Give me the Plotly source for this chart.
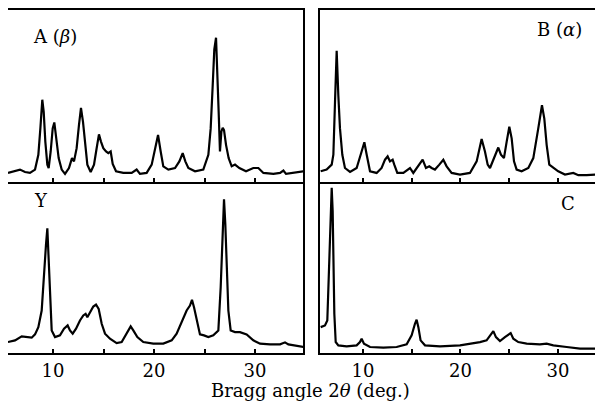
import plotly.graph_objects as go

# ---- Data (2θ in degrees, intensity in arbitrary units) ----
a_deg = [5.54, 6.24, 6.73, 7.23, 7.72, 8.22, 8.55, 8.75, 8.94, 9.08, 9.24, 9.44, 9.57, 9.77, 9.97, 10.13,
         10.33, 10.56, 10.86, 11.19, 11.58, 11.88, 12.08, 12.34, 12.57, 12.77, 12.97, 13.17, 13.40, 13.73,
         14.06, 14.32, 14.55, 14.75, 14.98, 15.25, 15.48, 15.71, 15.91, 16.24, 16.96, 17.79, 18.28, 18.61,
         19.27, 19.77, 20.10, 20.40, 20.66, 20.92, 21.42, 22.08, 22.51, 22.84, 23.10, 23.40, 24.06, 24.88,
         25.38, 25.61, 25.81, 25.97, 26.14, 26.27, 26.40, 26.53, 26.67, 26.80, 26.93, 27.13, 27.39, 27.69,
         28.02, 28.45, 29.11, 29.83, 30.33, 30.83, 31.82, 32.48, 32.81, 33.07, 33.80, 34.79]
a_int = [10.3, 12.7, 13.7, 11.3, 10.3, 13.7, 28.7, 55.3, 84.3, 72, 42, 18.7, 15.3, 32, 55.3, 61.3,
         45.3, 25.3, 13.7, 9.3, 15.3, 25.3, 22, 35.3, 58.7, 76, 62, 38.7, 18.7, 11.3,
         18.7, 35.3, 49.3, 42, 35.3, 32, 30.3, 32, 19.3, 12, 10.3, 10.3, 13.7, 9.3,
         10.3, 18.7, 35.3, 48.7, 32, 17, 13.7, 15.3, 22, 30.3, 22, 15.3, 12, 13.7,
         28.7, 55.3, 98.7, 135.3, 147, 115.3, 72, 32, 52, 56, 53.7, 38.7, 25.3, 17,
         18.7, 15.3, 12, 15.3, 15.3, 10.3, 9.3, 10.3, 12.7, 9.3, 10.3, 12]

b_deg = [5.66, 6.27, 6.79, 6.96, 7.13, 7.30, 7.47, 7.64, 7.88, 8.15, 8.67, 9.35, 9.86, 10.14, 10.38,
         10.72, 11.40, 11.91, 12.26, 12.53, 12.77, 13.04, 13.21, 13.52, 14.14, 14.55, 14.82, 15.16,
         15.68, 16.12, 16.46, 16.80, 17.04, 17.38, 17.83, 18.24, 18.58, 19.09, 19.95, 20.97, 21.66,
         22.17, 22.51, 22.79, 23.03, 23.54, 23.88, 24.15, 24.46, 24.74, 25.01, 25.25, 25.49, 25.76,
         26.27, 26.96, 27.47, 27.98, 28.36, 28.60, 28.84, 29.11, 29.52, 30.03, 30.72, 31.23, 31.57,
         32.09, 32.94, 34.65]
b_int = [12, 13.7, 18.7, 28.7, 82, 133.7, 88.7, 55.3, 28.7, 15.3, 11.3, 15.3, 32, 41.3, 28.7,
         12, 10.3, 15.3, 23.7, 27, 22, 23.7, 18.7, 10.3, 10.3, 13.7, 15.3, 10.3,
         17, 23.7, 15.3, 17, 15.3, 13.7, 18.7, 23.7, 17, 10.3, 8.7, 10.3, 22,
         44.7, 32, 18.7, 15.3, 28.7, 36, 28.7, 25.3, 42, 57, 45.3, 22, 13.7,
         12, 15.3, 25.3, 55.3, 78.7, 65.3, 38.7, 18.7, 15.3, 12, 8.7, 9.3, 10.3,
         8, 8, 9.3]

y_deg = [5.54, 6.24, 6.90, 7.39, 7.89, 8.22, 8.55, 8.88, 9.11, 9.31, 9.44, 9.57, 9.70, 9.87, 10.20,
         10.69, 11.09, 11.45, 11.68, 11.95, 12.28, 12.67, 13.00, 13.23, 13.40, 13.66, 13.99, 14.26,
         14.52, 14.82, 15.15, 15.64, 16.30, 16.80, 17.36, 17.69, 17.95, 18.35, 18.94, 19.93, 20.92,
         21.75, 22.24, 22.74, 23.23, 23.56, 23.76, 23.96, 24.22, 24.55, 24.95, 25.38, 25.87, 26.37,
         26.60, 26.80, 26.93, 27.06, 27.19, 27.36, 27.59, 28.02, 28.51, 29.17, 29.83, 30.50, 31.49,
         32.48, 32.97, 33.30, 34.79]
y_int = [11.3, 13, 17, 16.3, 15.7, 19, 26.3, 43, 83, 109.7, 125.7, 96.3, 56.3, 23, 16.3,
         18, 24.7, 28, 23, 19.7, 24.7, 33, 38, 39.7, 36.3, 41.3, 47, 49,
         44.7, 29.7, 19.7, 14.7, 10.3, 11.3, 21.3, 27, 23, 16.3, 11.3, 9.7, 9.7,
         13, 19.7, 31.3, 43, 48, 53.7, 46.3, 33, 19, 18, 16.3, 18, 23,
         66.3, 116.3, 154.7, 129.7, 83, 43, 23, 21.3, 21.3, 19, 13, 9.7, 9,
         9, 11, 9, 6.3]

c_deg = [5.66, 6.10, 6.34, 6.48, 6.62, 6.79, 6.89, 6.96, 7.06, 7.20, 7.47, 8.32, 9.35, 9.69, 9.86,
         10.10, 10.72, 12.09, 13.45, 14.48, 14.99, 15.33, 15.50, 15.68, 15.91, 16.36, 17.90, 19.95,
         20.63, 21.32, 22.00, 22.68, 23.09, 23.37, 23.64, 24.05, 24.56, 25.15, 25.42, 25.93, 26.79,
         28.15, 28.84, 29.52, 30.89, 32.26, 33.62, 34.65]
c_int = [26.3, 28, 33, 76.3, 126.3, 166.3, 143, 99.7, 39.7, 11.3, 8, 7, 8, 11.3, 14.7,
         9.7, 6.3, 5.7, 6.3, 9, 18, 29.7, 33.7, 26.3, 13, 8, 7, 8,
         9, 9.7, 11.3, 13, 18, 22.3, 16.3, 12.3, 16.3, 20.3, 14.7, 11.3, 9.7,
         9, 9.7, 8, 6.3, 4.7, 4.7, 4.7]

panel_labels = ["A (<i>β</i>)", "B (<i>α</i>)", "Y", "C"]
tick_vals = [10, 15, 20, 25, 30]
tick_text = ["10", "", "20", "", "30"]
x_title = "Bragg angle 2<i>θ</i> (deg.)"

FONT = "DejaVu Serif"
W, H = 603, 405
OFF = 8  # page offset of the plot div (browser body margin)


def px_x(p):
    return (p - OFF) / W


def px_y(p):
    return min(1.0, max(0.0, 1 - (p - OFF) / H))


fig = go.Figure()

# panel pixel boxes on the page: (x0, x1, ytop, ybottom)
boxes = {
    1: (8, 303, 7, 181),    # A
    2: (320, 603, 6, 181),  # B
    3: (8, 303, 182, 353),  # Y
    4: (320, 603, 182, 353),  # C
}
xranges = {1: [5.545, 34.75], 2: [5.59, 34.62], 3: [5.545, 34.75], 4: [5.59, 34.62]}
yranges = {1: [1, 175], 2: [1, 175], 3: [0, 171], 4: [0, 171]}
series = {1: (a_deg, a_int), 2: (b_deg, b_int), 3: (y_deg, y_int), 4: (c_deg, c_int)}

for i in range(1, 5):
    xs, ys = series[i]
    sfx = "" if i == 1 else str(i)
    fig.add_trace(go.Scatter(x=xs, y=ys, mode="lines",
                             line=dict(color="black", width=2.2),
                             xaxis="x" + sfx, yaxis="y" + sfx, showlegend=False,
                             hoverinfo="skip"))
    x0, x1, yt, yb = boxes[i]
    right_panel = i in (2, 4)
    bottom_panel = i in (3, 4)
    fig.update_layout(**{
        "xaxis" + sfx: dict(
            domain=[px_x(x0), px_x(x1)], range=xranges[i], anchor="y" + sfx,
            showline=True, linecolor="black", linewidth=2,
            mirror=not bottom_panel,
            showgrid=False, zeroline=False,
            ticks="inside", ticklen=4, tickwidth=1.5, tickcolor="black",
            tickvals=tick_vals,
            ticktext=tick_text if bottom_panel else [""] * len(tick_vals),
            showticklabels=bottom_panel,
            tickfont=dict(family=FONT, size=18, color="black"),
        ),
        "yaxis" + sfx: dict(
            domain=[px_y(yb), px_y(yt)], range=yranges[i], anchor="x" + sfx,
            showline=True, linecolor="black", linewidth=2, mirror=not right_panel,
            showgrid=False, zeroline=False, showticklabels=False, ticks="",
        ),
    })

label_pos = [
    (55, 35, "center"),
    (584, 28, "right"),
    (41, 199, "center"),
    (568, 202, "center"),
]
for txt, (px, py, anc) in zip(panel_labels, label_pos):
    fig.add_annotation(text=txt, x=px_x(px), y=px_y(py), xref="paper", yref="paper",
                       xanchor=anc, yanchor="middle", showarrow=False,
                       font=dict(family=FONT, size=18, color="black"))

fig.add_annotation(text=x_title, x=px_x(310), y=px_y(390), xref="paper", yref="paper",
                   xanchor="center", yanchor="middle", showarrow=False,
                   font=dict(family=FONT, size=18, color="black"))

fig.update_layout(width=W, height=H, margin=dict(l=0, r=0, t=0, b=0),
                  paper_bgcolor="white", plot_bgcolor="white")

fig.write_html("out.html")
